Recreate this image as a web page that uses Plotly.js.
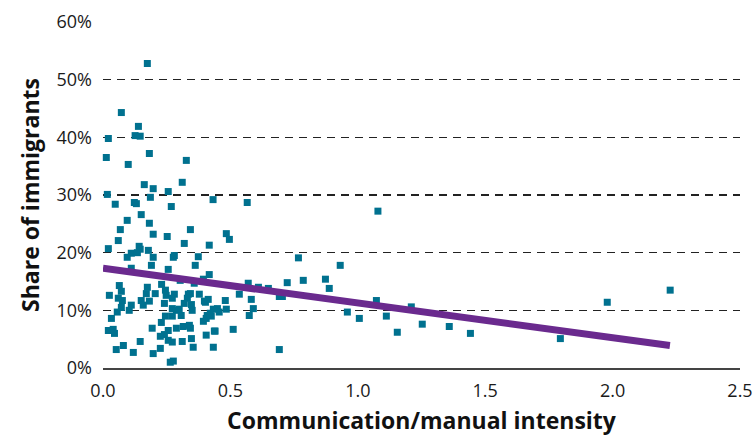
<!DOCTYPE html>
<html>
<head>
<meta charset="utf-8">
<script src="https://cdn.plot.ly/plotly-3.0.1.min.js"></script>
<style>html,body{margin:0;padding:0;background:#fff;}#chart{width:754px;height:436px;}</style>
</head>
<body>
<div id="chart"></div>
<script>
// Communication/manual intensity (x) and share of immigrants in % (y)
const intensity = [
  0.174,0.072,0.139,0.126,0.146,0.021,0.182,0.013,0.327,
  0.099,0.311,0.162,0.197,0.256,0.017,0.186,0.432,0.048,0.123,0.131,0.268,0.150,0.095,0.182,0.068,0.343,0.197,0.252,0.060,0.319,0.417,0.021,0.142,0.146,0.111,0.135,0.178,0.095,0.197,0.280,0.276,0.374,
  0.111,0.190,0.256,0.362,0.417,0.064,0.174,0.230,0.358,0.394,0.303,0.072,0.025,0.170,0.205,0.245,0.248,0.280,0.335,0.343,0.378,0.060,0.076,0.272,0.331,0.413,0.150,0.182,0.158,0.111,0.241,0.319,0.347,0.402,0.072,0.103,0.056,0.272,0.288,0.299,0.350,0.433,0.033,0.245,0.272,0.307,0.409,0.394,0.229,0.021,0.040,0.045,0.193,0.256,0.288,0.315,0.339,0.343,0.437,0.241,0.225,0.405,0.347,0.146,0.256,0.272,0.311,0.080,0.052,0.225,0.354,0.433,0.119,0.197,0.264,0.276,
  0.767,0.723,0.786,0.570,0.610,0.649,0.535,0.692,0.704,0.398,0.480,0.582,0.590,0.574,0.484,0.449,0.456,0.421,0.425,0.405,0.511,0.440,0.692,
  0.566,0.484,0.496,
  0.931,0.873,0.888,1.073,1.210,0.959,1.006,1.112,1.253,1.359,1.155,1.079,
  1.442,1.795,1.979,2.226
];
const immigrantShare = [
  52.8,44.3,41.9,40.3,40.2,39.8,37.2,36.5,36.0,
  35.3,32.2,31.8,31.1,30.6,30.1,29.6,29.2,28.4,28.7,28.5,28.0,26.6,25.6,25.1,24.0,24.0,23.2,22.8,22.1,21.6,21.3,20.7,21.1,20.6,19.9,20.0,20.4,19.2,19.2,19.5,19.2,19.3,
  17.3,17.8,17.1,17.8,16.2,14.3,14.0,14.5,14.7,15.4,15.2,13.3,12.6,12.9,12.9,13.5,12.6,12.8,12.8,12.9,12.8,12.1,11.7,12.1,12.1,11.9,11.7,11.6,10.9,10.9,11.2,11.2,11.0,11.4,10.5,10.0,9.7,10.3,10.0,10.2,10.0,10.2,8.6,9.0,9.0,9.1,9.1,8.1,7.9,6.5,6.7,6.0,6.9,6.5,6.9,7.2,7.4,6.9,6.4,5.8,5.5,5.7,5.1,4.6,4.8,4.5,4.6,3.9,3.2,3.4,3.6,3.6,2.7,2.5,1.0,1.2,
  19.1,14.8,15.2,14.7,14.0,13.8,12.8,12.4,12.4,11.6,11.7,11.9,10.3,9.1,10.2,10.3,9.7,9.5,9.0,8.6,6.7,6.4,3.2,
  28.7,23.3,22.3,
  17.8,15.4,13.8,11.7,10.6,9.7,8.6,9.0,7.6,7.2,6.2,27.2,
  6.0,5.1,11.4,13.5
];
// Linear trend line endpoints
const trendX = [0, 2.225];
const trendY = [17.3, 3.9];

const xTickVals = [0, 0.5, 1.0, 1.5, 2.0, 2.5];
const xTickText = ['0.0', '0.5', '1.0', '1.5', '2.0', '2.5'];
const yTickVals = [0, 10, 20, 30, 40, 50, 60];
const yTickText = ['0%', '10%', '20%', '30%', '40%', '50%', '60%'];

const font = 'Open Sans, Noto Sans, sans-serif';

const data = [
  {
    x: intensity, y: immigrantShare, type: 'scatter', mode: 'markers',
    marker: {symbol: 'square', size: 7, color: '#00718F'},
    cliponaxis: false, hoverinfo: 'x+y'
  },
  {
    x: trendX, y: trendY, type: 'scatter', mode: 'lines',
    line: {color: '#6A2A8E', width: 7},
    hoverinfo: 'skip'
  }
];

const layout = {
  width: 754, height: 436,
  margin: {l: 103, r: 14, t: 22, b: 68},
  paper_bgcolor: '#fff', plot_bgcolor: '#fff',
  showlegend: false,
  font: {family: font, color: '#1a1a1a', size: 18},
  xaxis: {
    range: [0, 2.5], tickvals: xTickVals, ticktext: xTickText,
    showgrid: false, zeroline: false,
    showline: true, linecolor: '#444', linewidth: 2,
    ticks: '', ticklabelstandoff: 5,
    tickfont: {family: font, size: 18, color: '#1a1a1a'},
    title: {text: 'Communication/manual intensity', font: {family: font, size: 23, color: '#111', weight: 'bold'}, standoff: 12}
  },
  yaxis: {
    range: [0, 60], tickvals: yTickVals, ticktext: yTickText,
    showgrid: true, gridcolor: '#222', gridwidth: 1.5, griddash: '8px,6px',
    zeroline: false, showline: false, ticks: '', ticklabelstandoff: 10,
    tickfont: {family: font, size: 18, color: '#1a1a1a'},
    title: {text: 'Share of immigrants', font: {family: font, size: 23, color: '#111', weight: 'bold'}, standoff: 10}
  }
};

Plotly.newPlot('chart', data, layout, {displayModeBar: false, staticPlot: true});
</script>
</body>
</html>
